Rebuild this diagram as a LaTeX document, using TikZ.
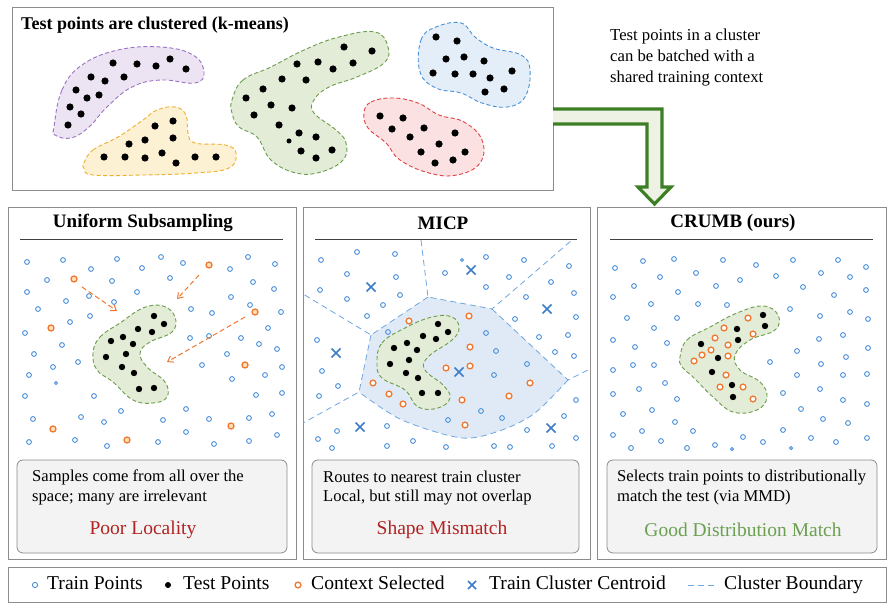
\documentclass[tikz,border=0pt]{standalone}
\usepackage{fontspec}
\setmainfont{Liberation Serif}
\usetikzlibrary{arrows.meta,calc}
\definecolor{boxgray}{HTML}{8C8C8C}
\definecolor{trainblue}{HTML}{4A90D9}
\definecolor{crossblue}{HTML}{3D7CC9}
\definecolor{ctxorange}{HTML}{F07830}
\definecolor{ctxfill}{HTML}{FFE2B8}
\definecolor{regfill}{HTML}{DFEAF6}
\definecolor{gfill}{HTML}{E2ECD6}
\definecolor{gline}{HTML}{6C9C4C}
\definecolor{pfill}{HTML}{EDE4F3}
\definecolor{pline}{HTML}{9C72C4}
\definecolor{yfill}{HTML}{FDF1D4}
\definecolor{yline}{HTML}{EEB030}
\definecolor{bfill}{HTML}{E4EEF9}
\definecolor{bline}{HTML}{4A90D9}
\definecolor{rfill}{HTML}{FBE1E1}
\definecolor{rline}{HTML}{E04444}
\definecolor{capfill}{HTML}{F3F3F3}
\definecolor{redlab}{HTML}{B22222}
\definecolor{greenlab}{HTML}{6AA050}
\definecolor{arrgreen}{HTML}{3D7F24}
\definecolor{arrfill}{HTML}{EEF2E4}
\begin{document}
\begin{tikzpicture}[x=1pt,y=-1pt,
  panelbox/.style={draw=boxgray,line width=0.9pt,fill=white},
  capbox/.style={draw=boxgray,line width=0.8pt,fill=capfill,rounded corners=6pt},
  blob/.style={dashed,dash pattern=on 4pt off 2.5pt,line width=0.9pt},
  trainpt/.style={draw=trainblue,line width=0.9pt},
  ctxpt/.style={draw=ctxorange,line width=1.3pt,fill=white},
  ctxptA/.style={draw=ctxorange,line width=1.3pt,fill=ctxfill},
  crossst/.style={draw=crossblue,line width=1.5pt},
  bndline/.style={draw=trainblue!80,dashed,dash pattern=on 6pt off 4pt,line width=0.8pt},
  ptitle/.style={font=\fontsize{19}{22}\selectfont\bfseries,inner sep=0pt},
  captxt/.style={font=\fontsize{16.6}{20}\selectfont,anchor=west,inner sep=0pt,text height=11.5pt,text depth=3.5pt},
  labtxt/.style={font=\fontsize{19.5}{22}\selectfont,inner sep=0pt},
  legtxt/.style={font=\fontsize{19.6}{22}\selectfont,anchor=west,inner sep=0pt,text height=12.5pt,text depth=4pt},
  sidetxt/.style={font=\fontsize{16.7}{20}\selectfont,anchor=west,inner sep=0pt,text height=11.5pt,text depth=3.5pt},
  orarrow/.style={draw=ctxorange,line width=1pt,dashed,dash pattern=on 5pt off 3pt,-{Straight Barb[length=5pt,width=7pt]}}
]
\useasboundingbox (0,0) rectangle (893,609);

% ---------- top box ----------
\draw[panelbox] (12,7) rectangle (553,190);
\coordinate (topR) at (553,116);
\node[anchor=west,inner sep=0pt,font=\fontsize{18}{21}\selectfont\bfseries] (toptitle) at (21,25) {Test points are clustered (k-means)};

% purple
\draw[blob,draw=pline,fill=pfill] plot[smooth cycle,tension=0.7] coordinates {(54,127)(62,90)(82,65)(118,50)(161,47)(193,55)(204,72)(195,83)(161,80)(132,87)(107,107)(89,127)(71,138)(55,135)};
\foreach \p in {(113,63),(137,64),(156,66),(170,59),(186,69),(91,77),(105,81),(124,77),(76,90),(87,98),(99,95),(70,107),(81,114),(68,125)} \fill \p circle (3.6pt);
% yellow
\draw[blob,draw=yline,fill=yfill] plot[smooth cycle,tension=0.7] coordinates {(84,163)(93,150)(118,137)(143,120)(157,110)(175,107)(186,115)(188,133)(195,143)(225,145)(236,153)(229,168)(196,173)(143,175)(93,175)(84,168)};
\foreach \p in {(104,157),(125,157),(145,158),(162,153),(176,163),(195,157),(216,157),(129,144),(145,140),(173,138),(155,126),(173,121)} \fill \p circle (3.6pt);
% green
\draw[blob,draw=gline,fill=gfill] plot[smooth cycle,tension=0.7] coordinates {(232,100)(243,80)(271,67)(304,50)(339,37)(375,32)(388,47)(384,63)(357,77)(329,87)(314,100)(314,113)(336,130)(346,143)(343,160)(321,172)(296,173)(271,160)(257,137)(239,127)(232,113)};
\foreach \p in {(344,47),(372,51),(297,64),(318,62),(333,69),(353,63),(282,79),(306,80),(263,89),(246,98),(271,105),(292,108),(254,115),(279,125),(299,133),(316,137),(301,151),(316,158),(332,150)} \fill \p circle (3.6pt);
\fill (289,141) circle (2.5pt);
% blue
\draw[blob,draw=bline,fill=bfill] plot[smooth cycle,tension=0.7] coordinates {(420,72)(421,40)(436,27)(461,23)(475,37)(493,48)(521,55)(530,70)(525,97)(507,107)(482,103)(461,93)(436,88)};
\foreach \p in {(436,37),(457,41),(446,59),(464,57),(484,61),(433,73),(455,74),(473,74),(490,78),(512,71),(485,92),(504,89)} \fill \p circle (3.6pt);
% red
\draw[blob,draw=rline,fill=rfill] plot[smooth cycle,tension=0.7] coordinates {(364,113)(371,102)(393,98)(418,103)(439,115)(464,122)(482,140)(480,163)(457,175)(429,173)(400,160)(386,143)(368,128)};
\foreach \p in {(380,116),(403,118),(392,129),(424,128),(410,137),(455,133),(439,144),(421,152),(465,152),(435,163),(453,160)} \fill \p circle (3.6pt);

% side text
\node[sidetxt] (side1) at (610,37) {Test points in a cluster};
\node[sidetxt] (side2) at (610,58) {can be batched with a};
\node[sidetxt] (side3) at (610,79) {shared training context};

% ---------- panels ----------
\draw[panelbox] (8,207) rectangle (296,559);
\draw[panelbox] (303,207) rectangle (590,559);
\draw[panelbox] (597,207) rectangle (886,559);
\node[ptitle] (t1) at (143,223) {Uniform Subsampling};
\node[ptitle] (t2) at (443,223) {MICP};
\node[ptitle] (t3) at (733,223) {CRUMB (ours)};
\draw[line width=0.7pt,black!75] (20,239) -- (283,239);
\draw[line width=0.7pt,black!75] (315,239) -- (577,239);
\draw[line width=0.7pt,black!75] (610,239) -- (873,239);

% ---------- big green arrow ----------
\draw[line width=3.2pt,draw=arrgreen,fill=arrfill,line join=miter]
  (topR) ++(0,-7) -- (662,109) -- (662,187) -- (671,187) -- (654.5,204) -- (638,187) -- (647,187) -- (647,124) -- (553,124);

% ---------- panel 1 ----------
\foreach \p in {(27,262),(63,260),(91,269),(117,259),(142,268),(161,257),(183,263),(230,269),(248,257),(275,264),(47,280),(112,281),(170,278),(253,282),(274,289),(27,292),(66,301),(89,296),(137,292),(114,302),(231,297),(38,309),(90,316),(70,322),(191,309),(212,313),(250,305),(281,312),(25,333),(62,345),(190,338),(209,336),(241,338),(259,344),(268,328),(277,349),(34,354),(78,362),(53,367),(227,354),(202,365),(282,367),(29,375),(232,379),(265,375),(25,396),(94,396),(256,395),(282,393),(33,419),(81,417),(104,422),(121,411),(163,420),(186,409),(209,419),(249,418),(272,414),(29,442),(75,440),(107,446),(158,442),(186,432),(214,444),(249,441),(277,435)} \draw[trainpt] \p circle (2.4pt);
\draw[trainpt] (56,383) circle (1.6pt);
\draw[blob,draw=gline,fill=gfill] plot[smooth cycle,tension=0.7] coordinates {(93,353)(100,337)(120,323)(143,308)(163,306)(175,317)(172,332)(150,342)(140,353)(147,367)(165,382)(167,397)(153,403)(133,400)(113,382)(97,370)};
\foreach \p in {(154,316),(164,324),(138,329),(152,332),(123,337),(111,341),(133,344),(106,357),(126,354),(122,367),(134,373),(139,389),(154,388)} \fill \p circle (3.2pt);
\coordinate (oa) at (74,279);
\coordinate (ob) at (209,265);
\coordinate (oc) at (255,312);
\foreach \p in {(oa),(ob),(oc),(51,328),(245,365),(53,429),(231,426),(127,440)} \draw[ctxptA] \p circle (3pt);
\coordinate (ea) at (117,311);
\coordinate (eb) at (177,299);
\coordinate (ec) at (167,362);
\draw[orarrow] ($(oa)+(8,8)$) -- (ea);
\draw[orarrow] ($(ob)+(-10,10)$) -- (eb);
\draw[orarrow] ($(oc)+(-10,5)$) -- (ec);

% ---------- panel 2 ----------
\fill[regfill] (371,335) -- (428,297) -- (492,309) -- (568,380) -- plot[smooth] coordinates {(568,380)(535,413)(502,430)(462,438)(402,420)(359,392)} -- cycle;
\draw[bndline] (421,240) -- (428,297) -- (492,309) -- (572,240);
\draw[bndline] (428,297) -- (371,335) -- (303,294);
\draw[bndline] (371,335) -- (359,392) -- (303,423);
\draw[bndline] (492,309) -- (568,380) -- (588,370);
\draw[bndline] plot[smooth] coordinates {(568,380)(535,413)(502,430)(462,438)(402,420)(359,392)};
\foreach \p in {(321,260),(357,252),(395,254),(347,274),(396,277),(320,290),(347,299),(383,305),(400,295),(367,316),(388,332),(317,340),(322,371),(338,386),(319,396),(445,273),(486,257),(524,260),(569,266),(509,277),(551,282),(486,287),(574,293),(526,297),(515,319),(576,317),(486,333),(568,335),(539,337),(496,351),(555,352),(574,356),(527,364),(494,375),(481,411),(502,418),(448,420),(576,400),(564,416),(527,430),(337,431),(318,439),(332,448),(387,426),(387,446),(413,441),(446,447),(494,446),(510,447),(552,446),(576,438)} \draw[trainpt] \p circle (2.4pt);
\draw[trainpt] (462,260) circle (1.6pt);
\draw[blob,draw=gline,fill=gfill] plot[smooth cycle,tension=0.7] coordinates {(377,363)(382,343)(405,328)(432,317)(452,317)(459,328)(452,340)(428,357)(425,370)(443,385)(450,398)(438,408)(418,407)(405,390)(382,378)};
\foreach \p in {(438,324),(448,332),(423,336),(436,339),(407,343),(394,348),(417,350),(390,364),(409,360),(406,373),(418,378),(422,393),(438,393)} \fill \p circle (3.2pt);
\foreach \p in {(409,321),(469,316),(470,347),(446,368),(470,366),(530,383),(509,396),(373,383),(389,394),(403,404),(462,400),(465,425)} \draw[ctxpt] \p circle (2.9pt);
\foreach \p in {(371,287),(471,270),(547,309),(336,353),(459,372),(360,427),(551,428)} \draw[crossst] \p +(-4.5,-4.5) -- +(4.5,4.5) \p +(-4.5,4.5) -- +(4.5,-4.5);

% ---------- panel 3 ----------
\foreach \p in {(615,268),(643,261),(674,259),(723,260),(756,265),(793,260),(838,260),(866,267),(660,277),(696,273),(740,280),(776,276),(821,273),(850,277),(634,286),(678,292),(716,286),(803,287),(834,295),(866,290),(613,297),(651,304),(698,304),(727,305),(790,309),(850,312),(627,318),(677,318),(820,316),(868,319),(654,328),(613,340),(635,347),(667,343),(819,339),(843,335),(868,348),(797,351),(770,362),(821,364),(846,357),(613,370),(633,365),(654,365),(797,375),(843,375),(867,374),(665,383),(639,389),(613,394),(783,393),(820,389),(677,399),(843,400),(867,404),(623,414),(652,410),(801,409),(675,422),(823,419),(848,423),(613,435),(642,431),(693,431),(783,430),(661,441),(631,448),(687,448),(715,445),(743,437),(763,442),(811,438),(836,442),(867,438)} \draw[trainpt] \p circle (2.4pt);
\draw[trainpt] (732,449) circle (1.6pt);
\draw[trainpt] (791,448) circle (1.6pt);
\draw[blob,draw=gline,fill=gfill] plot[smooth cycle,tension=0.7] coordinates {(680,357)(687,340)(710,327)(737,313)(763,306)(778,315)(775,330)(750,340)(735,355)(740,370)(760,382)(767,397)(757,410)(733,412)(713,397)(693,377)(682,367)};
\foreach \p in {(748,318),(724,328),(753,334),(715,338),(711,350),(728,345),(702,355),(728,356),(694,361),(726,375),(720,387),(743,387),(753,399)} \draw[ctxpt] \p circle (2.9pt);
\foreach \p in {(763,315),(765,326),(737,329),(738,340),(701,344),(718,358),(712,372),(732,385),(733,397)} \fill \p circle (3.2pt);

% ---------- captions ----------
\draw[capbox] (17,460) rectangle (287,553);
\draw[capbox] (312,460) rectangle (579,553);
\draw[capbox] (607,460) rectangle (877,553);
\node[captxt] (c1a) at (32,477) {Samples come from all over the};
\node[captxt] (c1b) at (32,497) {space; many are irrelevant};
\node[labtxt,text=redlab] (l1) at (143,530) {Poor Locality};
\node[captxt] (c2a) at (323,478) {Routes to nearest train cluster};
\node[captxt] (c2b) at (323,497) {Local, but still may not overlap};
\node[labtxt,text=redlab] (l2) at (442,530) {Shape Mismatch};
\node[captxt] (c3a) at (617,477) {Selects train points to distributionally};
\node[captxt] (c3b) at (617,497) {match the test (via MMD)};
\node[labtxt,text=greenlab] (l3) at (743,530) {Good Distribution Match};

% ---------- legend ----------
\draw[panelbox] (8,567) rectangle (886,602);
\draw[trainpt] (35,585) circle (2.6pt);
\node[legtxt] (lg1) at (47,585) {Train Points};
\fill (168,585) circle (3pt);
\node[legtxt] (lg2) at (183,585) {Test Points};
\draw[ctxpt] (298,585) circle (2.9pt);
\node[legtxt] (lg3) at (311,585) {Context Selected};
\draw[crossst] (472,585) +(-4,-4) -- +(4,4) (472,585) +(-4,4) -- +(4,-4);
\node[legtxt] (lg4) at (489,585) {Train Cluster Centroid};
\draw[bndline] (688,585) -- (718,585);
\node[legtxt] (lg5) at (724,585) {Cluster Boundary};
\end{tikzpicture}
\end{document}
